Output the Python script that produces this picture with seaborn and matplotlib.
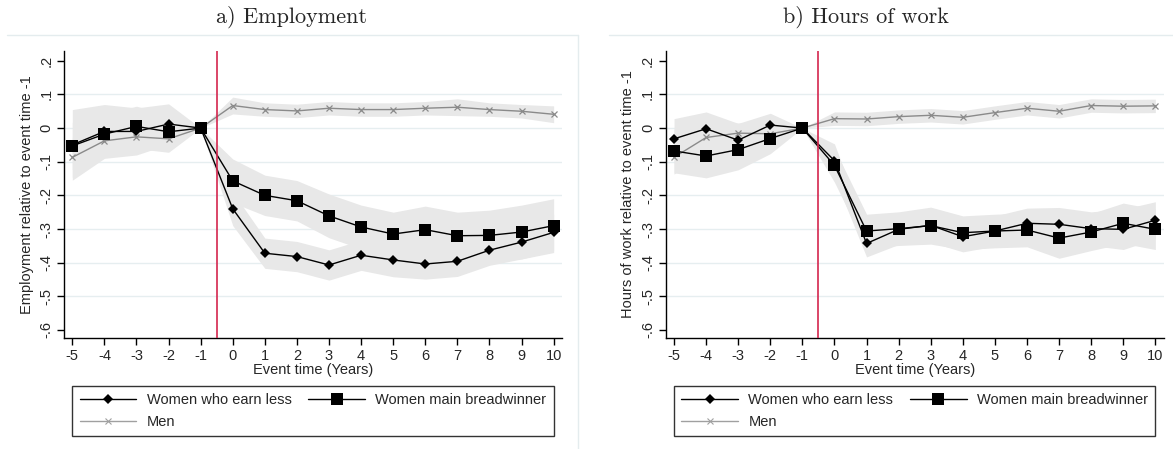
import numpy as np
import pandas as pd
import seaborn as sns
import matplotlib.pyplot as plt
from matplotlib.lines import Line2D

# event time in years
event_time = list(range(-5, 11))

# a) Employment -- point estimates
emp_less = [-0.050, -0.010, -0.010, 0.012, 0.0, -0.240, -0.372, -0.382, -0.407, -0.378,
            -0.392, -0.404, -0.396, -0.363, -0.339, -0.310]
emp_main = [-0.053, -0.018, 0.005, -0.011, 0.0, -0.157, -0.200, -0.216, -0.261, -0.294,
            -0.315, -0.302, -0.320, -0.319, -0.309, -0.290]
emp_men = [-0.087, -0.038, -0.026, -0.032, 0.0, 0.067, 0.055, 0.051, 0.059, 0.055,
           0.055, 0.059, 0.062, 0.055, 0.050, 0.041]
# a) confidence band half widths
emp_less_ci = [0.105, 0.08, 0.07, 0.06, 0.0, 0.05, 0.045, 0.045, 0.045, 0.045,
               0.05, 0.045, 0.045, 0.045, 0.05, 0.055]
emp_main_ci = [0.07, 0.06, 0.06, 0.05, 0.0, 0.065, 0.06, 0.06, 0.065, 0.065,
               0.065, 0.07, 0.07, 0.075, 0.08, 0.08]
emp_men_ci = [0.06, 0.04, 0.035, 0.04, 0.0, 0.025, 0.02, 0.02, 0.02, 0.02,
              0.02, 0.02, 0.025, 0.02, 0.02, 0.025]

# b) Hours of work -- point estimates
hrs_less = [-0.032, -0.002, -0.036, 0.009, 0.0, -0.097, -0.343, -0.301, -0.289, -0.323,
            -0.306, -0.283, -0.286, -0.299, -0.301, -0.274]
hrs_main = [-0.068, -0.083, -0.064, -0.031, 0.0, -0.111, -0.306, -0.299, -0.290, -0.311,
            -0.306, -0.303, -0.327, -0.309, -0.283, -0.301]
hrs_men = [-0.087, -0.028, -0.015, -0.017, 0.0, 0.028, 0.027, 0.034, 0.038, 0.032,
           0.046, 0.059, 0.050, 0.067, 0.065, 0.066]
# b) confidence band half widths
hrs_less_ci = [0.06, 0.05, 0.05, 0.035, 0.0, 0.05, 0.04, 0.045, 0.05, 0.045,
               0.045, 0.045, 0.05, 0.05, 0.06, 0.055]
hrs_main_ci = [0.065, 0.065, 0.06, 0.045, 0.0, 0.05, 0.05, 0.05, 0.055, 0.05,
               0.05, 0.05, 0.06, 0.055, 0.06, 0.06]
hrs_men_ci = [0.05, 0.04, 0.03, 0.03, 0.0, 0.02, 0.02, 0.02, 0.02, 0.02,
              0.02, 0.02, 0.02, 0.02, 0.02, 0.02]

labels = ["Women who earn less", "Women main breadwinner", "Men"]
y_ticks = [0.2, 0.1, 0.0, -0.1, -0.2, -0.3, -0.4, -0.5, -0.6]

sns.set_theme(style="white")
plt.rcParams['font.family'] = ['Liberation Sans', 'DejaVu Sans']

W, H = 1173, 449
fig = plt.figure(figsize=(W / 100, H / 100), dpi=100)

band_col = "#e8e8e8"
men_col = "#8a8a8a"
red_col = "#d4264e"


def stata_fmt(v):
    s = f"{v:g}"
    if s in ("0", "-0"):
        return "0"
    return s.replace("0.", ".")


def panel(left_px, title, ylabel, less, main, men, less_ci, main_ci, men_ci, title_x):
    ax = fig.add_axes([left_px / W, 111 / H, 498 / W, 287.3 / H])
    x = np.array(event_time)

    # bands
    for est, ci in [(men, men_ci), (less, less_ci), (main, main_ci)]:
        est = np.array(est)
        ci = np.array(ci)
        ax.fill_between(x, est - ci, est + ci, color=band_col, lw=0, zorder=1)

    df = pd.DataFrame({"t": event_time, "less": less, "main": main, "men": men})
    sns.lineplot(data=df, x="t", y="men", ax=ax, color=men_col, lw=1.0,
                 marker="x", markersize=4, markeredgewidth=0.9,
                 markeredgecolor=men_col, zorder=3)
    sns.lineplot(data=df, x="t", y="less", ax=ax, color="black", lw=1.0,
                 marker="D", markersize=5, markeredgewidth=0, zorder=4)
    sns.lineplot(data=df, x="t", y="main", ax=ax, color="black", lw=1.0,
                 marker="s", markersize=8.5, markeredgewidth=0, zorder=5)

    ax.axvline(-0.5, color=red_col, lw=1.2, zorder=6)

    for t in y_ticks[1:-1]:
        ax.axhline(t, color="#e6eef0", lw=1.0, zorder=0)

    ax.set_xlim(-5.25, 10.27)
    ax.set_ylim(-0.624, 0.23)
    ax.set_xticks(event_time)
    ax.set_xticklabels([str(t) for t in event_time], fontsize=10.5)
    ax.set_yticks(y_ticks)
    ax.set_yticklabels([stata_fmt(v) for v in y_ticks], rotation=90,
                       va="center", fontsize=10.5)
    ax.tick_params(axis="both", direction="out", length=5, width=1, color="black",
                   left=True, bottom=True, pad=3)
    for s in ["top", "right"]:
        ax.spines[s].set_visible(False)
    for s in ["left", "bottom"]:
        ax.spines[s].set_color("black")
        ax.spines[s].set_linewidth(1.0)
    ax.set_xlabel("Event time (Years)", fontsize=10.5, labelpad=0)
    ax.set_ylabel(ylabel, fontsize=10.5, labelpad=4)

    # legend
    h_less = Line2D([], [], color="black", lw=1.0, marker="D", markersize=5, markeredgewidth=0)
    h_main = Line2D([], [], color="black", lw=1.0, marker="s", markersize=8.5, markeredgewidth=0)
    h_men = Line2D([], [], color="#a0a0a0", lw=1.0, marker="x", markersize=4,
                   markeredgewidth=0.8)
    x0 = ax.transData.transform((-5, 0))[0] / W
    x1 = ax.transData.transform((10, 0))[0] / W
    leg = fig.legend([h_less, h_men, h_main], [labels[0], labels[2], labels[1]],
                     ncol=2, loc="upper left", mode="expand",
                     bbox_to_anchor=(x0, (H - 386) / H, x1 - x0, 0.001),
                     bbox_transform=fig.transFigure, borderaxespad=0,
                     fontsize=10.5, handlelength=3.9, handletextpad=0.7,
                     columnspacing=1.6, labelspacing=0.55, borderpad=0.5,
                     fancybox=False, frameon=True)
    leg.get_frame().set_edgecolor("black")
    leg.get_frame().set_linewidth(1.0)

    fig.text(title_x / W, 1 - 17 / H, title, ha="center", va="center",
             fontsize=16, family="cmr10")
    return ax


panel(64.3, "a) Employment", "Employment relative to event time -1",
      emp_less, emp_main, emp_men, emp_less_ci, emp_main_ci, emp_men_ci, 292)
panel(666, "b) Hours of work", "Hours of work relative to event time -1",
      hrs_less, hrs_main, hrs_men, hrs_less_ci, hrs_main_ci, hrs_men_ci, 866)

# light frames around each graph region
frame_col = "#e4ecee"
fig.add_artist(Line2D([7 / W, 578 / W], [1 - 35 / H, 1 - 35 / H], color=frame_col, lw=1))
fig.add_artist(Line2D([578 / W, 578 / W], [0, 1 - 35 / H], color=frame_col, lw=1))
fig.add_artist(Line2D([609 / W, 1173 / W], [1 - 35 / H, 1 - 35 / H], color=frame_col, lw=1))

fig.savefig("out.png", dpi=100)
